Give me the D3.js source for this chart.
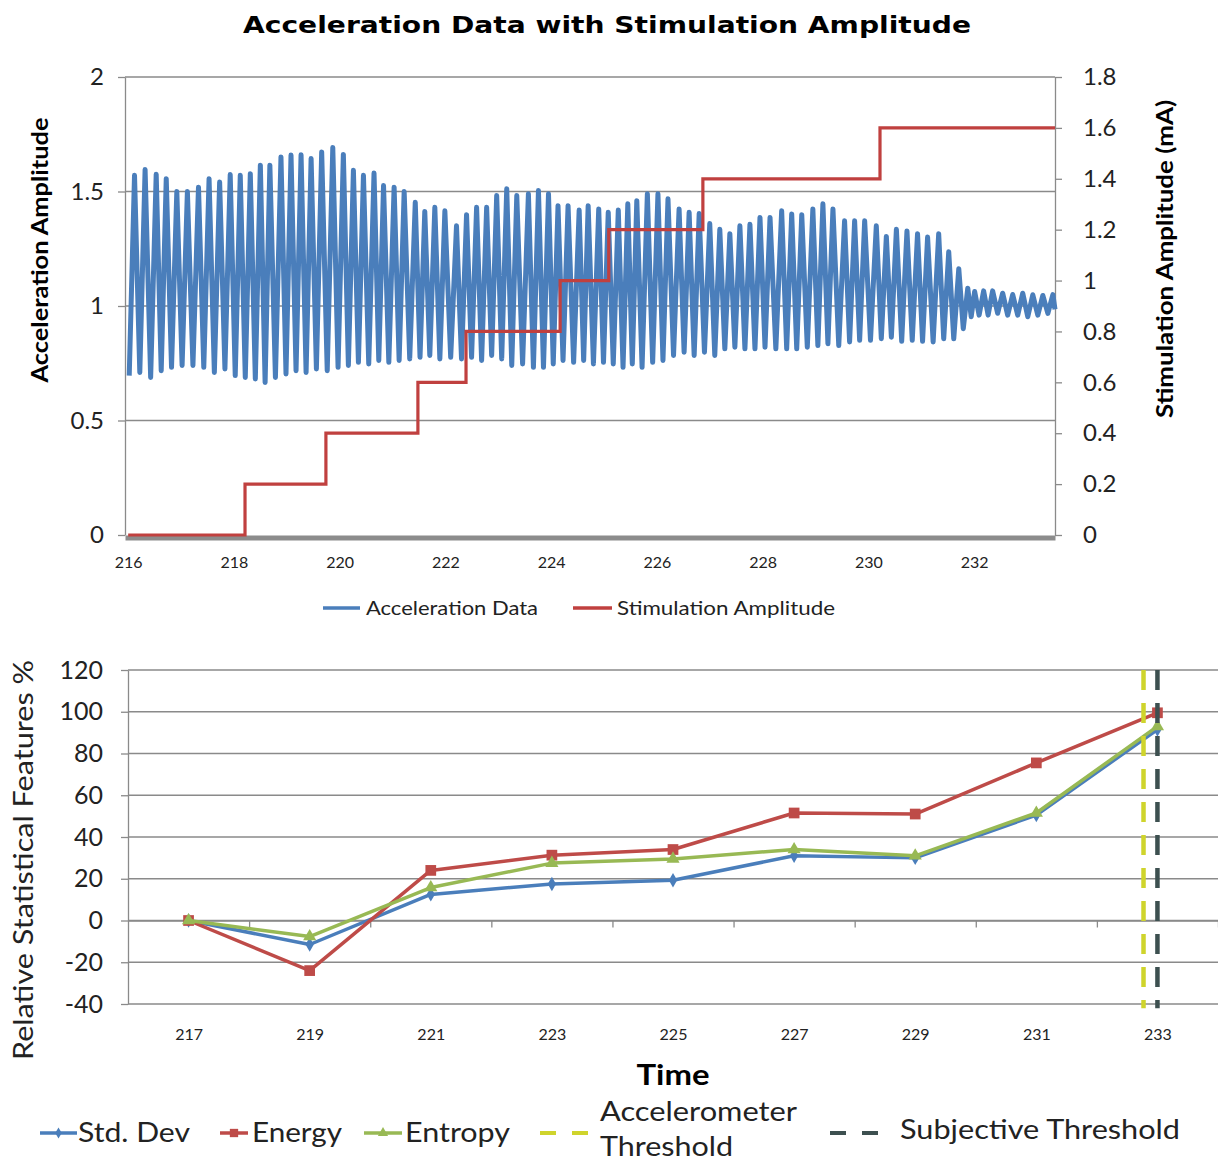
<!DOCTYPE html>
<html><head><meta charset="utf-8">
<script src="https://cdn.jsdelivr.net/npm/d3@7"></script>
<style>body{margin:0;background:#fff} svg{display:block}</style>
</head><body>
<svg id="c" width="1218" height="1162"></svg>
<script>
// ---------------- DATA ----------------
// Top chart: acceleration oscillation, one peak per cycle (time of peak), and the trough preceding it
const accelPeakTimes = [216.12,216.32,216.53,216.72,216.92,217.12,217.33,217.53,217.73,217.93,
  218.12,218.31,218.50,218.68,218.89,219.08,219.27,219.46,219.66,219.87,
  220.07,220.26,220.45,220.65,220.83,221.03,221.22,221.43,221.61,221.80,
  221.99,222.21,222.40,222.59,222.78,222.97,223.16,223.35,223.57,223.76,
  223.95,224.13,224.32,224.53,224.70,224.90,225.08,225.27,225.45,225.62,
  225.82,226.02,226.21,226.42,226.61,226.80,227.00,227.19,227.38,227.57,
  227.76,227.95,228.14,228.36,228.55,228.74,228.95,229.14,229.33,229.55,
  229.74,229.93,230.15,230.34,230.53,230.73,230.93,231.12,231.33,231.52,
  231.71,231.88,232.01,232.18,232.35,232.54,232.73,232.92,233.11,233.30,233.49];
const accelPeaks = [1.571,1.596,1.575,1.556,1.50,1.50,1.519,1.556,1.541,1.574,
  1.571,1.578,1.615,1.615,1.651,1.659,1.66,1.644,1.673,1.692,
  1.662,1.593,1.571,1.581,1.526,1.519,1.50,1.453,1.413,1.431,
  1.416,1.35,1.399,1.431,1.431,1.482,1.512,1.482,1.49,1.504,
  1.49,1.438,1.438,1.419,1.438,1.424,1.409,1.419,1.446,1.46,
  1.49,1.49,1.468,1.424,1.409,1.404,1.36,1.335,1.316,1.35,
  1.357,1.387,1.387,1.416,1.402,1.399,1.424,1.446,1.424,1.372,
  1.372,1.372,1.35,1.304,1.335,1.328,1.316,1.301,1.316,1.237,
  1.163,1.078,1.063,1.066,1.066,1.056,1.05,1.056,1.049,1.046,1.05];
const accelTroughs = [0.696,0.710,0.688,0.717,0.732,0.740,0.740,0.732,0.710,0.725,
  0.696,0.688,0.681,0.666,0.688,0.703,0.717,0.710,0.725,0.717,
  0.732,0.740,0.754,0.747,0.762,0.754,0.762,0.769,0.776,0.784,
  0.769,0.776,0.769,0.776,0.762,0.784,0.769,0.740,0.747,0.732,
  0.732,0.747,0.762,0.754,0.762,0.747,0.754,0.747,0.732,0.747,
  0.732,0.754,0.762,0.784,0.798,0.784,0.798,0.784,0.813,0.820,
  0.813,0.813,0.820,0.813,0.813,0.813,0.820,0.827,0.835,0.827,
  0.843,0.850,0.850,0.857,0.864,0.846,0.850,0.846,0.843,0.857,
  0.857,0.901,0.953,0.960,0.960,0.968,0.960,0.960,0.953,0.960,0.968,
  0.985];
// Stimulation amplitude steps (mA), value holds from time until next time
const stimTimes = [216, 218.21, 219.74, 221.48, 222.39, 224.17, 225.09, 226.87, 230.22, 233.53];
const stimValues = [0, 0.2, 0.4, 0.6, 0.8, 1.0, 1.2, 1.4, 1.6, 1.6];
const topTimeTicks = [216, 218, 220, 222, 224, 226, 228, 230, 232];
const accelTicks = [0, 0.5, 1, 1.5, 2];
const stimTicks = [0, 0.2, 0.4, 0.6, 0.8, 1, 1.2, 1.4, 1.6, 1.8];
const topSeriesNames = ["Acceleration Data", "Stimulation Amplitude"];

// Bottom chart: relative statistical features (%)
const featureTimes = [217, 219, 221, 223, 225, 227, 229, 231, 233];
const stdDev  = [0, -11.5, 12.5, 17.5, 19.3, 31, 30, 50.5, 91.5];
const energy  = [0, -24, 24, 31.3, 34, 51.5, 51, 75.5, 99.5];
const entropy = [0, -7.7, 15.8, 27.5, 29.5, 34, 31, 51.5, 93];
const accelThresholdTime = 232.77;
const subjectiveThresholdTime = 233.0;
const featureTicks = [-40, -20, 0, 20, 40, 60, 80, 100, 120];
const boundaryTicks = [218, 220, 222, 224, 226, 228, 230, 232, 234];

// ---------------- DRAW ----------------
const svg = d3.select("#c");
const FONT = "Lato, 'Open Sans', sans-serif";
const GRID = "#8a8a8a";
const C_BLUE = "#4a7ebb", C_RED = "#be4b48", C_GREEN = "#98b954",
      C_STIM = "#c0403f", C_YEL = "#cfd42c", C_DARK = "#3d5050";
const plain = d => String(d);

// Title
svg.append("text").attr("x", 607).attr("y", 33).attr("text-anchor", "middle")
  .attr("font-family", "'DejaVu Sans', Verdana, sans-serif").attr("font-weight", "bold")
  .attr("font-size", 23).attr("textLength", 728).attr("lengthAdjust", "spacingAndGlyphs")
  .text("Acceleration Data with Stimulation Amplitude");

// ---- Top chart scales
const xT = d3.scaleLinear().domain([215.94, 233.53]).range([125, 1055]);
const yL = d3.scaleLinear().domain([0, 2]).range([535, 77]);
const yR = d3.scaleLinear().domain([0, 1.8]).range([535, 77]);

const gTop = svg.append("g");
// gridlines
gTop.append("g").selectAll("line").data(accelTicks.filter(d => d > 0)).join("line")
  .attr("x1", 125).attr("x2", 1055).attr("y1", d => yL(d)).attr("y2", d => yL(d))
  .attr("stroke", GRID).attr("stroke-width", 1.3);

// left axis
const axL = gTop.append("g").attr("transform", "translate(125,0)")
  .call(d3.axisLeft(yL).tickValues(accelTicks).tickFormat(plain).tickSize(7).tickSizeOuter(0).tickPadding(14));
// right axis
const axR = gTop.append("g").attr("transform", "translate(1055,0)")
  .call(d3.axisRight(yR).tickValues(stimTicks).tickFormat(plain).tickSize(7).tickSizeOuter(0).tickPadding(21));
[axL, axR].forEach(a => {
  a.select(".domain").attr("stroke", GRID).attr("stroke-width", 1.3);
  a.selectAll(".tick line").attr("stroke", GRID).attr("stroke-width", 1.3);
  a.selectAll("text").attr("font-family", FONT).attr("font-size", 24).attr("fill", "#222");
});

// acceleration path
const accelPts = [];
accelPeakTimes.forEach((t, i) => {
  const prev = i === 0 ? t - (accelPeakTimes[1] - accelPeakTimes[0]) : accelPeakTimes[i - 1];
  accelPts.push([(prev + t) / 2, accelTroughs[i]]);
  accelPts.push([t, accelPeaks[i]]);
});
accelPts.push([xT.domain()[1], accelTroughs[accelTroughs.length - 1]]);
const accelLine = d3.line().x(d => xT(d[0])).y(d => yL(d[1]));
gTop.append("path").datum(accelPts).attr("d", accelLine)
  .attr("fill", "none").attr("stroke", C_BLUE).attr("stroke-width", 5).attr("stroke-linejoin", "round");

// bottom axis (thick)
const axB = gTop.append("g").attr("transform", "translate(0,537.5)")
  .call(d3.axisBottom(xT).tickValues(topTimeTicks).tickFormat(plain).tickSize(0).tickSizeOuter(0).tickPadding(19));
axB.select(".domain").attr("stroke", "#8c8c8c").attr("stroke-width", 5);
axB.selectAll("text").attr("font-family", FONT).attr("font-size", 16).attr("fill", "#222");

// stimulation step line
const stimLine = d3.line().curve(d3.curveStepAfter).x((d, i) => xT(stimTimes[i])).y(d => yR(d));
gTop.append("path").datum(stimValues).attr("d", stimLine)
  .attr("fill", "none").attr("stroke", C_STIM).attr("stroke-width", 3.2);

// axis titles
svg.append("text").attr("transform", "translate(48,250) rotate(-90)").attr("text-anchor", "middle")
  .attr("font-family", FONT).attr("font-weight", "bold").attr("font-size", 22)
  .attr("textLength", 265).attr("lengthAdjust", "spacingAndGlyphs").text("Acceleration Amplitude");
svg.append("text").attr("transform", "translate(1173,259) rotate(-90)").attr("text-anchor", "middle")
  .attr("font-family", FONT).attr("font-weight", "bold").attr("font-size", 22)
  .attr("textLength", 318).attr("lengthAdjust", "spacingAndGlyphs").text("Stimulation Amplitude (mA)");

// top legend
const topLeg = [
  {name: topSeriesNames[0], color: C_BLUE, x1: 323, x2: 360, tx: 366, tw: 172},
  {name: topSeriesNames[1], color: C_STIM, x1: 573, x2: 612, tx: 617, tw: 218}
];
topLeg.forEach(l => {
  svg.append("line").attr("x1", l.x1).attr("x2", l.x2).attr("y1", 608).attr("y2", 608)
    .attr("stroke", l.color).attr("stroke-width", 3.5);
  svg.append("text").attr("x", l.tx).attr("y", 615).attr("font-family", FONT).attr("font-size", 20)
    .attr("fill", "#222").attr("textLength", l.tw).attr("lengthAdjust", "spacingAndGlyphs").text(l.name);
});

// ---- Bottom chart
const xB = d3.scaleLinear().domain([216, 234]).range([128, 1218]);
const yB = d3.scaleLinear().domain([-40, 120]).range([1004, 670]);
const gBot = svg.append("g");
gBot.append("g").selectAll("line").data(featureTicks).join("line")
  .attr("x1", 128).attr("x2", 1218).attr("y1", d => yB(d)).attr("y2", d => yB(d))
  .attr("stroke", GRID).attr("stroke-width", 1.3);
const axBL = gBot.append("g").attr("transform", "translate(128,0)")
  .call(d3.axisLeft(yB).tickValues(featureTicks).tickFormat(plain).tickSize(7).tickSizeOuter(0).tickPadding(18));
axBL.select(".domain").attr("stroke", GRID).attr("stroke-width", 1.3);
axBL.selectAll(".tick line").attr("stroke", GRID).attr("stroke-width", 1.3);
axBL.selectAll("text").attr("font-family", FONT).attr("font-size", 25).attr("fill", "#222");

// category axis on zero line (boundary ticks)
const axB0 = gBot.append("g").attr("transform", `translate(0,${yB(0)})`)
  .call(d3.axisBottom(xB).tickValues(boundaryTicks).tickFormat("").tickSize(7).tickSizeOuter(0));
axB0.select(".domain").attr("stroke", GRID).attr("stroke-width", 1.3);
axB0.selectAll(".tick line").attr("stroke", GRID).attr("stroke-width", 1.3);
// category labels along the bottom
const axBLab = gBot.append("g").attr("transform", `translate(0,${yB(-40)})`)
  .call(d3.axisBottom(xB).tickValues(featureTimes).tickFormat(plain).tickSize(0).tickPadding(25));
axBLab.select(".domain").remove();
axBLab.selectAll("text").attr("font-family", FONT).attr("font-size", 16).attr("fill", "#222");

const series = [
  {name: "Std. Dev", vals: stdDev, color: C_BLUE, sym: d3.symbolDiamond, size: 60},
  {name: "Energy", vals: energy, color: C_RED, sym: d3.symbolSquare, size: 115},
  {name: "Entropy", vals: entropy, color: C_GREEN, sym: d3.symbolTriangle, size: 75}
];
const featLine = d3.line().x((d, i) => xB(featureTimes[i])).y(d => yB(d));
series.forEach(s => {
  gBot.append("path").datum(s.vals).attr("d", featLine).attr("fill", "none")
    .attr("stroke", s.color).attr("stroke-width", 3.5).attr("stroke-linejoin", "round");
  gBot.append("g").selectAll("path").data(s.vals).join("path")
    .attr("transform", (d, i) => `translate(${xB(featureTimes[i])},${yB(d)})`)
    .attr("d", d3.symbol(s.sym, s.size)).attr("fill", s.color);
});
// threshold lines
[[accelThresholdTime, C_YEL], [subjectiveThresholdTime, C_DARK]].forEach(([t, c]) => {
  gBot.append("line").attr("x1", xB(t)).attr("x2", xB(t)).attr("y1", yB(120)).attr("y2", yB(-42))
    .attr("stroke", c).attr("stroke-width", 4.5).attr("stroke-dasharray", "20,13");
});

// bottom axis titles
svg.append("text").attr("transform", "translate(33,860) rotate(-90)").attr("text-anchor", "middle")
  .attr("font-family", FONT).attr("font-size", 26).attr("fill", "#222")
  .attr("textLength", 400).attr("lengthAdjust", "spacingAndGlyphs").text("Relative Statistical Features %");
svg.append("text").attr("x", 673).attr("y", 1085).attr("text-anchor", "middle")
  .attr("font-family", FONT).attr("font-weight", "bold").attr("font-size", 28)
  .attr("textLength", 73).attr("lengthAdjust", "spacingAndGlyphs").text("Time");

// bottom legend
const legY = 1133;
const botLeg = [
  {s: series[0], x1: 40, x2: 77, tx: 78, tw: 112},
  {s: series[1], x1: 220, x2: 248, tx: 252, tw: 90},
  {s: series[2], x1: 364, x2: 402, tx: 405, tw: 105}
];
botLeg.forEach(l => {
  svg.append("line").attr("x1", l.x1).attr("x2", l.x2).attr("y1", legY).attr("y2", legY)
    .attr("stroke", l.s.color).attr("stroke-width", 3.5);
  svg.append("path").attr("transform", `translate(${(l.x1 + l.x2) / 2},${legY})`)
    .attr("d", d3.symbol(l.s.sym, l.s.size * 0.6)).attr("fill", l.s.color);
  svg.append("text").attr("x", l.tx).attr("y", legY + 9).attr("font-family", FONT).attr("font-size", 26)
    .attr("fill", "#222").attr("textLength", l.tw).attr("lengthAdjust", "spacingAndGlyphs").text(l.s.name);
});
[[540, C_YEL], [830, C_DARK]].forEach(([x, c]) => {
  svg.append("line").attr("x1", x).attr("x2", x + 48).attr("y1", legY).attr("y2", legY)
    .attr("stroke", c).attr("stroke-width", 4).attr("stroke-dasharray", "16,16");
});
svg.append("text").attr("x", 600).attr("y", 1121).attr("font-family", FONT).attr("font-size", 26)
  .attr("fill", "#222").attr("textLength", 197).attr("lengthAdjust", "spacingAndGlyphs").text("Accelerometer");
svg.append("text").attr("x", 600).attr("y", 1156).attr("font-family", FONT).attr("font-size", 26)
  .attr("fill", "#222").attr("textLength", 133).attr("lengthAdjust", "spacingAndGlyphs").text("Threshold");
svg.append("text").attr("x", 900).attr("y", 1139).attr("font-family", FONT).attr("font-size", 26)
  .attr("fill", "#222").attr("textLength", 280).attr("lengthAdjust", "spacingAndGlyphs").text("Subjective Threshold");
</script>
</body></html>
